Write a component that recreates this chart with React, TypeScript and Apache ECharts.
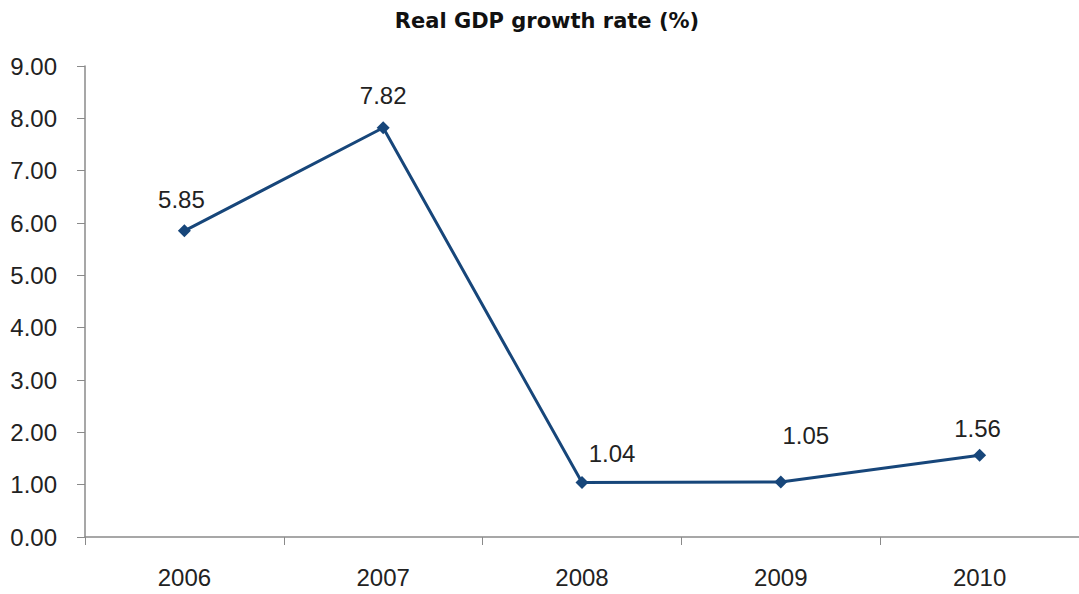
import React, { useEffect, useRef } from "react";
import * as echarts from "echarts";

const categories = ["2006", "2007", "2008", "2009", "2010"];
const gdpGrowth = [5.85, 7.82, 1.04, 1.05, 1.56];
const labelOffsets: [number, number][] = [
  [-3, -31],
  [0, -32],
  [30, -29],
  [25, -47],
  [-2, -27],
];
const titleText = "Real GDP growth rate (%)";

const FONT = "'Liberation Sans', Arial, sans-serif";
const AXIS_COLOR = "#8a8a8a";
const LINE_COLOR = "#17467A";

export default function App() {
  const ref = useRef<HTMLDivElement>(null);
  useEffect(() => {
    if (!ref.current) return;
    const chart = echarts.init(ref.current, undefined, { renderer: "svg" });
    chart.setOption({
      animation: false,
      backgroundColor: "#ffffff",
      graphic: [
        {
          type: "text",
          x: 547,
          y: 21,
          style: {
            text: titleText,
            fontFamily: "'DejaVu Sans', sans-serif",
            fontWeight: "bold",
            fontSize: 21,
            fill: "#111",
            textAlign: "center",
            textVerticalAlign: "middle",
          },
        },
      ],
      grid: { left: 85, top: 66, width: 1000, height: 471, containLabel: false },
      xAxis: {
        type: "category",
        data: categories,
        boundaryGap: true,
        axisLine: { lineStyle: { color: AXIS_COLOR, width: 1.5 } },
        axisTick: { show: true, length: 8, lineStyle: { color: AXIS_COLOR } },
        axisLabel: {
          color: "#222",
          fontFamily: FONT,
          fontSize: 24,
          margin: 28,
        },
        splitLine: { show: false },
      },
      yAxis: {
        type: "value",
        min: 0,
        max: 9,
        interval: 1,
        axisLine: { show: true, lineStyle: { color: AXIS_COLOR, width: 1.5 } },
        axisTick: { show: true, length: 8, lineStyle: { color: AXIS_COLOR } },
        axisLabel: {
          color: "#222",
          fontFamily: FONT,
          fontSize: 24,
          margin: 28,
          formatter: (v: number) => v.toFixed(2),
        },
        splitLine: { show: false },
      },
      series: [
        {
          type: "line",
          data: gdpGrowth.map((v, i) => ({
            value: v,
            label: { offset: labelOffsets[i] },
          })),
          symbol: "diamond",
          symbolSize: 13,
          lineStyle: { color: LINE_COLOR, width: 3 },
          itemStyle: { color: LINE_COLOR },
          label: {
            show: true,
            position: "inside",
            color: "#222",
            fontFamily: FONT,
            fontSize: 24,
            formatter: (p: any) => Number(p.value).toFixed(2),
          },
        },
      ],
    });
    return () => chart.dispose();
  }, []);
  return (
    <div
      ref={ref}
      style={{ position: "fixed", left: 0, top: 0, width: 1079, height: 594, background: "#fff" }}
    />
  );
}
